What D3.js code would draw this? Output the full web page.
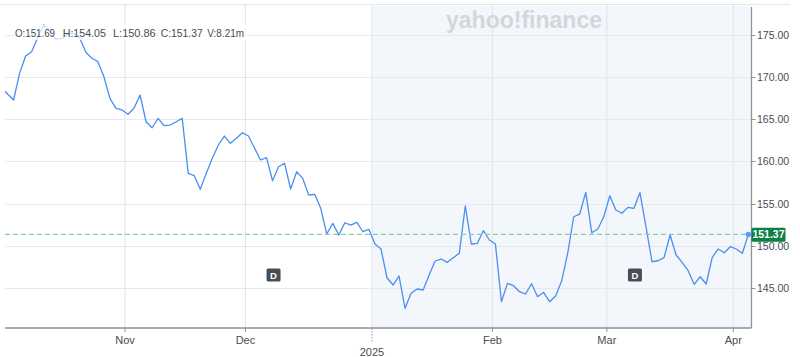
<!DOCTYPE html>
<html><head><meta charset="utf-8">
<script src="https://cdn.jsdelivr.net/npm/d3@7"></script>
<style>
html,body{margin:0;padding:0;background:#fff;}
svg{display:block;font-family:"Liberation Sans",Arial,sans-serif;}
</style></head>
<body><svg id="c" width="800" height="357"></svg>
<script>
// Daily closes, trading days from 2024-10-03 to 2025-04-03 (index 0..124)
const closes = [
168.68,167.97,167.26,170.41,172.46,172.97,174.62,176.12,175.5,174.47,
174.55,175.02,175.14,174.55,172.90,172.19,171.79,170.01,167.46,166.28,
166.08,165.57,166.28,167.85,164.69,163.98,165.09,164.22,164.30,164.69,
165.09,158.59,158.31,156.70,158.59,160.37,161.94,163.00,162.14,162.73,
163.39,163.00,161.58,160.17,160.44,157.72,159.37,159.78,156.74,158.78,
158.00,156.03,156.11,154.46,151.42,152.68,151.30,152.75,152.48,152.80,
151.69,151.97,150.24,149.65,146.25,145.39,146.45,142.64,144.41,144.92,
144.80,146.57,148.23,148.46,148.07,148.62,149.14,154.73,150.24,150.32,
151.81,150.71,150.24,143.42,145.59,145.31,144.60,144.33,145.54,144.01,
144.53,143.42,144.09,145.86,149.14,153.46,153.78,156.35,151.57,152.01,
153.46,155.95,154.26,153.87,154.57,154.46,156.30,152.28,148.14,148.26,
148.62,151.30,148.94,148.07,147.08,145.47,146.37,145.51,148.66,149.65,
149.21,149.92,149.65,149.14,151.37
];
// first trading day index of each month shown on the axis
const monthLabels = ["Nov","Dec","2025","Feb","Mar","Apr"];
const monthStartIndex = [21,41,62,82,101,122];
// ex-dividend days
const dividendIndex = [45,105];
const yTicks = [145,150,155,160,165,170,175];
const ohlcLabels = ["O:151.69","H:154.05","L:150.86","C:151.37","V:8.21m"];
const lastClose = 151.37;
const shadeFromIndex = 62; // 2025 start

const svg = d3.select("#c");
const L = 5, R = 751.5, T = 5, B = 328;

const x = d3.scaleLinear().domain([0, 124]).range([1.52, 1.52 + 124*6.023]);
const y = d3.scaleLinear().domain([140.31, 178.49]).range([B, T]);

svg.append("defs").append("clipPath").attr("id","clip")
  .append("rect").attr("x",L).attr("y",T).attr("width",R-L).attr("height",B-T);

// top border
svg.append("line").attr("x1",0).attr("x2",790).attr("y1",4.5).attr("y2",4.5)
  .attr("stroke","#e3e6ea").attr("stroke-width",1);

// shaded 2025 region
svg.append("rect").attr("x",x(shadeFromIndex-0.5)).attr("y",T+1)
  .attr("width",R-x(shadeFromIndex-0.5)).attr("height",B-T-1).attr("fill","#f3f6fb");

// horizontal grid
svg.append("g").selectAll("line").data(yTicks).join("line")
  .attr("x1",L).attr("x2",R).attr("y1",d=>Math.round(y(d))+0.5).attr("y2",d=>Math.round(y(d))+0.5)
  .attr("stroke","#e6e9ed").attr("stroke-width",1.2);

// vertical grid
svg.append("g").selectAll("line").data(monthStartIndex).join("line")
  .attr("x1",d=>x(d-0.5)).attr("x2",d=>x(d-0.5)).attr("y1",T).attr("y2",B)
  .attr("stroke","#e3e6ea").attr("stroke-width",1.2);

// watermark
svg.append("text").attr("x",446).attr("y",28)
  .attr("font-size",23).attr("font-weight","bold").attr("fill","#d3d6db")
  .attr("textLength",156).attr("lengthAdjust","spacingAndGlyphs")
  .text("yahoo!finance");

// price line
const line = d3.line().x((d,i)=>x(i)).y(d=>y(d));
svg.append("path").datum(closes).attr("clip-path","url(#clip)")
  .attr("d",line).attr("fill","none").attr("stroke","#4b8ef0")
  .attr("stroke-width",1.3).attr("stroke-linejoin","round");

// last close dashed line
svg.append("line").attr("x1",L).attr("x2",R).attr("y1",y(lastClose)).attr("y2",y(lastClose))
  .attr("stroke","#86cfae").attr("stroke-width",1.2).attr("stroke-dasharray","5,3");

// last point dot
svg.append("circle").attr("cx",x(closes.length-1)).attr("cy",y(closes[closes.length-1]))
  .attr("r",2.6).attr("fill","#5a9af2");

// dividend markers
const dg = svg.append("g").selectAll("g").data(dividendIndex).join("g")
  .attr("transform",d=>`translate(${x(d)+1},275)`);
dg.append("rect").attr("x",-7).attr("y",-6.5).attr("width",14).attr("height",13)
  .attr("rx",1.5).attr("fill","#474e56");
dg.append("text").attr("text-anchor","middle").attr("y",3.6)
  .attr("font-size",9.5).attr("font-weight","bold").attr("fill","#fff").text("D");

// OHLC legend
svg.append("rect").attr("x",13).attr("y",25).attr("width",234).attr("height",15)
  .attr("fill","#fff").attr("opacity",0.72);
const ohlcX = [15,62.7,113,160.7,207.3];
const ohlcW = [40,43.3,42.7,42,36.7];
svg.append("g").selectAll("text").data(ohlcLabels).join("text")
  .attr("x",(d,i)=>ohlcX[i]).attr("y",36.5)
  .attr("font-size",11).attr("fill","#464d55")
  .attr("textLength",(d,i)=>ohlcW[i]).attr("lengthAdjust","spacingAndGlyphs")
  .text(d=>d);

// y axis
svg.append("line").attr("x1",R).attr("x2",R).attr("y1",7).attr("y2",B)
  .attr("stroke","#8d9299").attr("stroke-width",1.3);
const yg = svg.append("g").selectAll("g").data(yTicks).join("g")
  .attr("transform",d=>`translate(${R},${Math.round(y(d))+0.5})`);
yg.append("line").attr("x1",0).attr("x2",4).attr("stroke","#8d9299");
yg.append("text").attr("x",5.5).attr("dy","0.35em").attr("font-size",10.5)
  .attr("fill","#464d55").text(d=>d3.format(".2f")(d));

// x axis
svg.append("line").attr("x1",L).attr("x2",R).attr("y1",B).attr("y2",B)
  .attr("stroke","#8d9299").attr("stroke-width",1.3);
const xg = svg.append("g").selectAll("g").data(monthStartIndex).join("g")
  .attr("transform",d=>`translate(${x(d-0.5)},${B})`);
xg.append("line").attr("y1",0).attr("y2",(d,i)=>monthLabels[i]==="2025"?15:4)
  .attr("stroke","#8d9299").attr("stroke-dasharray",(d,i)=>monthLabels[i]==="2025"?"1.5,1.5":null);
xg.append("text").attr("text-anchor","middle")
  .attr("y",(d,i)=>monthLabels[i]==="2025"?28:16)
  .attr("font-size",11).attr("fill","#474e56").text((d,i)=>monthLabels[i]);

// last close label
const ly = y(lastClose);
svg.append("rect").attr("x",R).attr("y",ly-6.8).attr("width",34).attr("height",14)
  .attr("rx",1.5).attr("fill","#0b7f45");
svg.append("text").attr("x",R+17).attr("y",ly+3.7).attr("text-anchor","middle")
  .attr("font-size",10.5).attr("font-weight","bold").attr("fill","#fff").text(lastClose.toFixed(2));
</script></body></html>
